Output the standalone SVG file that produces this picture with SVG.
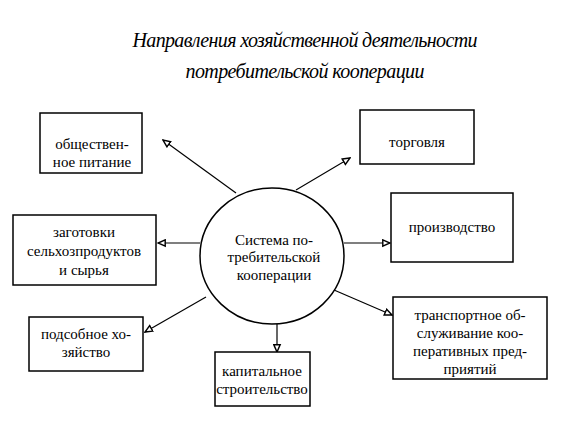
<svg xmlns="http://www.w3.org/2000/svg" width="565" height="421" viewBox="0 0 565 421" xml:lang="ru">
<defs>
<marker id="a" viewBox="0 0 10 10" refX="9" refY="5" markerWidth="9" markerHeight="9" markerUnits="userSpaceOnUse" orient="auto">
<path d="M1,1.5 L9,5 L1,8.5 Z" fill="#fff" stroke="#000" stroke-width="1.6"/>
</marker>
</defs>
<rect width="565" height="421" fill="#fff"/>
<g id="title">
<text x="305" y="47" font-family="Times New Roman" font-size="20" font-style="italic" text-anchor="middle" textLength="345" lengthAdjust="spacing">Направления хозяйственной деятельности</text>
<text x="305" y="78" font-family="Times New Roman" font-size="20" font-style="italic" text-anchor="middle" textLength="239" lengthAdjust="spacing">потребительской кооперации</text>
</g>
<g id="connectors" stroke="#000" stroke-width="1.2" fill="none" marker-end="url(#a)">
<line x1="236" y1="193" x2="163" y2="140"/>
<line x1="296" y1="190" x2="350" y2="158"/>
<line x1="200" y1="243" x2="158" y2="243"/>
<line x1="344" y1="243" x2="390" y2="243"/>
<line x1="206" y1="297" x2="145" y2="332"/>
<line x1="277" y1="324" x2="277" y2="352"/>
<line x1="334" y1="290" x2="392" y2="315"/>
</g>
<g id="center">
<ellipse cx="272" cy="256" rx="72" ry="68" fill="#fff" stroke="#000" stroke-width="1.5"/>
<text x="274" y="245" font-family="Times New Roman" font-size="15" text-anchor="middle">Система по-</text>
<text x="274" y="262" font-family="Times New Roman" font-size="15" text-anchor="middle">требительской</text>
<text x="274" y="280" font-family="Times New Roman" font-size="15" text-anchor="middle">кооперации</text>
</g>
<g id="n1">
<rect x="40" y="113" width="102" height="60" fill="#fff" stroke="#000" stroke-width="1.5"/>
<text x="92" y="149" font-family="Times New Roman" font-size="15" text-anchor="middle">обществен-</text>
<text x="92" y="167" font-family="Times New Roman" font-size="15" text-anchor="middle">ное питание</text>
</g>
<g id="n2">
<rect x="360" y="110" width="114" height="54" fill="#fff" stroke="#000" stroke-width="1.5"/>
<text x="417" y="147" font-family="Times New Roman" font-size="15" text-anchor="middle">торговля</text>
</g>
<g id="n3">
<rect x="13" y="215" width="143" height="70" fill="#fff" stroke="#000" stroke-width="1.5"/>
<text x="84" y="237" font-family="Times New Roman" font-size="15" text-anchor="middle">заготовки</text>
<text x="84" y="256" font-family="Times New Roman" font-size="15" text-anchor="middle">сельхозпродуктов</text>
<text x="84" y="275" font-family="Times New Roman" font-size="15" text-anchor="middle">и сырья</text>
</g>
<g id="n4">
<rect x="391" y="193" width="122" height="69" fill="#fff" stroke="#000" stroke-width="1.5"/>
<text x="452" y="232" font-family="Times New Roman" font-size="15" text-anchor="middle">производство</text>
</g>
<g id="n5">
<rect x="29" y="317" width="114" height="54" fill="#fff" stroke="#000" stroke-width="1.5"/>
<text x="86" y="339" font-family="Times New Roman" font-size="15" text-anchor="middle">подсобное хо-</text>
<text x="86" y="357" font-family="Times New Roman" font-size="15" text-anchor="middle">зяйство</text>
</g>
<g id="n6">
<rect x="215" y="352" width="95" height="54" fill="#fff" stroke="#000" stroke-width="1.5"/>
<text x="262" y="376" font-family="Times New Roman" font-size="15" text-anchor="middle">капитальное</text>
<text x="262" y="394" font-family="Times New Roman" font-size="15" text-anchor="middle">строительство</text>
</g>
<g id="n7">
<rect x="393" y="297" width="154" height="82" fill="#fff" stroke="#000" stroke-width="1.5"/>
<text x="470" y="320" font-family="Times New Roman" font-size="15" text-anchor="middle">транспортное об-</text>
<text x="470" y="338" font-family="Times New Roman" font-size="15" text-anchor="middle">служивание коо-</text>
<text x="470" y="356" font-family="Times New Roman" font-size="15" text-anchor="middle">перативных пред-</text>
<text x="470" y="374" font-family="Times New Roman" font-size="15" text-anchor="middle">приятий</text>
</g>
</svg>
